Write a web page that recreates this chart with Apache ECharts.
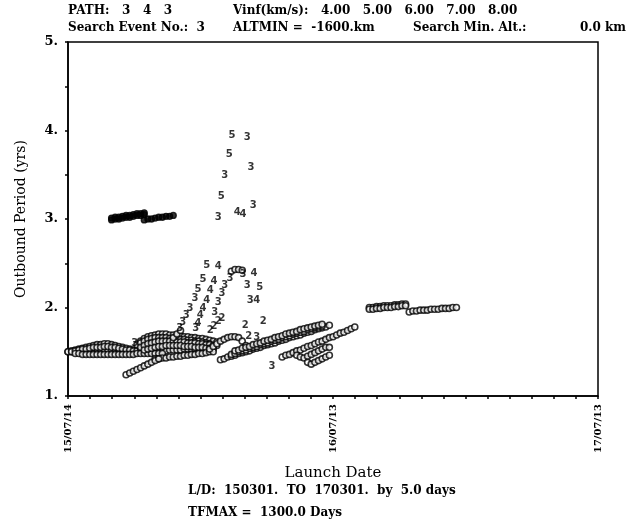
<!DOCTYPE html>
<html>
<head>
<meta charset="utf-8">
<script src="https://cdn.jsdelivr.net/npm/echarts@6/dist/echarts.min.js"></script>
<style>
  html, body { margin: 0; padding: 0; background: #fff; }
  #chart { width: 634px; height: 523px; }
</style>
</head>
<body>
<div id="chart"></div>
<script>
// x is launch day counted from 15/07/14, one point every 5 days
const xTickLabels = { 0: '15/07/14', 365: '16/07/13', 730: '17/07/13' };
const yTickLabels = { 1: '1.', 2: '2.', 3: '3.', 4: '4.', 5: '5.' };

// circle tracks: first launch day, then outbound period (yrs) every 5 days
const bandLow = { day0: 0, values: [1.50,1.50,1.51,1.51,1.51,1.52,1.52,1.52,1.52,1.52,1.52,1.51,1.51,1.51,1.50,1.50,1.50,1.50,1.50,1.50,1.50,1.50,1.50,1.50,1.50,1.51,1.51,1.51,1.52,1.52,1.52,1.52,1.53,1.53,1.53,1.53,1.54,1.54,1.54] };
const bandBump = { day0: 0, values: [1.50,1.51,1.52,1.53,1.54,1.55,1.56,1.57,1.58,1.58,1.59,1.59,1.58,1.57,1.56,1.55,1.54,1.53,1.52] };
const bandMid = { day0: 5, values: [1.50,1.51,1.52,1.53,1.53,1.54,1.55,1.55,1.55,1.56,1.56,1.55,1.55,1.54,1.53,1.52,1.52,1.51,1.51,1.51,1.51] };
const bandUnder = { day0: 10, values: [1.48,1.48,1.47,1.47,1.47,1.47,1.47,1.47,1.47,1.47,1.47,1.47,1.47,1.47,1.47,1.47,1.47,1.48,1.48,1.48,1.48,1.48,1.48,1.48,1.48] };
const blobTop = { day0: 95, values: [1.58,1.62,1.65,1.67,1.68,1.69,1.70,1.70,1.70,1.69,1.69,1.68,1.68,1.67,1.67,1.66,1.66,1.65,1.65,1.64,1.63,1.62,1.61] };
const blobUpper = { day0: 100, values: [1.60,1.62,1.64,1.65,1.66,1.66,1.66,1.66,1.65,1.65,1.65,1.64,1.64,1.63,1.63,1.62,1.62,1.61,1.60,1.59] };
const blobMid = { day0: 100, values: [1.55,1.57,1.59,1.60,1.61,1.62,1.62,1.62,1.62,1.62,1.61,1.61,1.61,1.60,1.60,1.60,1.59,1.59,1.58,1.58,1.57,1.57] };
const blobCore = { day0: 105, values: [1.52,1.53,1.54,1.55,1.56,1.56,1.57,1.57,1.57,1.57,1.57,1.56,1.56,1.56,1.55,1.55,1.55,1.54,1.54,1.53] };
const blobLow = { day0: 120, values: [1.42,1.42,1.43,1.43,1.44,1.44,1.45,1.45,1.46,1.46,1.47,1.47,1.48,1.48,1.49,1.50,1.50] };
const lowRise = { day0: 80, values: [1.24,1.26,1.28,1.30,1.32,1.34,1.36,1.38,1.40,1.42] };
const leftArc = { day0: 145, values: [1.66,1.70,1.74] };
const peakArc = { day0: 225, values: [2.41,2.43,2.43,2.42] };
const humpArc = { day0: 195, values: [1.53,1.56,1.59,1.62,1.64,1.66,1.67,1.67,1.66,1.62,1.57] };
const rightBandA = { day0: 210, values: [1.41,1.42,1.44,1.45,1.46,1.48,1.49,1.50,1.51,1.53,1.54,1.55,1.57,1.58,1.59,1.60,1.62,1.63,1.64,1.66,1.67,1.68,1.69,1.71,1.72,1.73,1.75,1.76,1.77,1.78,1.80] };
const rightBandD = { day0: 225, values: [1.47,1.48,1.50,1.51,1.52,1.54,1.55,1.56,1.58,1.59,1.60,1.62,1.63,1.64,1.66,1.67,1.68,1.70,1.71,1.72,1.73,1.75,1.76,1.77,1.78,1.79] };
const rightBandB = { day0: 230, values: [1.51,1.52,1.54,1.55,1.56,1.58,1.59,1.60,1.62,1.63,1.64,1.66,1.67,1.68,1.70,1.71,1.72,1.73,1.75,1.76,1.77,1.78,1.79,1.80,1.81] };
const rightBandC = { day0: 295, values: [1.44,1.46,1.47,1.49,1.51,1.52,1.54,1.56,1.57,1.59,1.61,1.62,1.64,1.66,1.67,1.69,1.71,1.72,1.74,1.76,1.78] };
const loopA = { day0: 315, values: [1.46,1.44,1.43,1.45,1.47,1.49,1.51,1.53,1.55,1.55] };
const loopB = { day0: 330, values: [1.38,1.36,1.38,1.40,1.42,1.44,1.46] };
const topBandA = { day0: 415, values: [2.00,2.00,2.01,2.01,2.02,2.02,2.02,2.03,2.03,2.04,2.04] };
const topBandB = { day0: 415, values: [1.98,1.98,1.99,1.99,2.00,2.00,2.00,2.01,2.01,2.02,2.02] };
const topBandC = { day0: 470, values: [1.95,1.96,1.96,1.97,1.97,1.97,1.98,1.98,1.98,1.99,1.99,1.99,2.00,2.00] };
const upperA = { day0: 60, values: [3.01,3.02,3.02,3.03,3.04,3.04,3.05,3.06,3.06,3.07] };
const upperB = { day0: 60, values: [2.99,3.00,3.00,3.01,3.02,3.02,3.03,3.04,3.04,3.05] };
const upperC = { day0: 105, values: [2.99,3.00,3.00,3.01,3.02,3.02,3.03,3.03,3.04] };

// digit marks: [launch day, period, printed digit]
const digitMarks = [
  [226,3.95,'5'],[247,3.92,'3'],[222,3.73,'5'],[252,3.58,'3'],[216,3.49,'3'],
  [211,3.25,'5'],[255,3.15,'3'],[207,3.02,'3'],[233,3.08,'4'],[241,3.05,'4'],
  [191,2.48,'5'],[207,2.46,'4'],[186,2.32,'5'],[201,2.30,'4'],[179,2.20,'5'],[196,2.19,'4'],
  [175,2.10,'3'],[191,2.08,'4'],[168,1.99,'3'],[186,1.99,'4'],[163,1.91,'3'],[182,1.91,'4'],
  [158,1.83,'3'],[179,1.82,'4'],[154,1.76,'3'],[176,1.76,'3'],
  [202,1.95,'3'],[207,2.06,'3'],[212,2.16,'3'],[216,2.25,'3'],[223,2.33,'3'],
  [196,1.74,'2'],[201,1.79,'2'],[207,1.84,'2'],[212,1.88,'2'],
  [241,2.37,'3'],[256,2.39,'4'],[247,2.25,'3'],[264,2.23,'5'],[251,2.08,'3'],[260,2.08,'4'],
  [244,1.80,'2'],[269,1.84,'2'],[249,1.67,'2'],[260,1.66,'3'],[281,1.33,'3'],[92,1.59,'3']
];

const track = t => t.values.map((v, i) => [t.day0 + 5 * i, v]);

const smallTracks = [bandLow, bandBump, bandMid, bandUnder, blobTop, blobUpper, blobMid, blobCore, blobLow,
  lowRise, leftArc, peakArc, humpArc, rightBandA, rightBandD, rightBandB, rightBandC, loopA, loopB,
  topBandA, topBandB, topBandC];
const bigTracks = [upperA, upperB, upperC];

const txt = { fontFamily: 'DejaVu Serif', fontWeight: 'bold', fontSize: 12, fill: '#000' };

const chart = echarts.init(document.getElementById('chart'));
chart.setOption({
  animation: false,
  backgroundColor: '#fff',
  grid: { left: 68, right: 36, top: 42, bottom: 127, show: true, borderColor: '#000', borderWidth: 1.5 },
  xAxis: {
    type: 'value', min: 0, max: 730, interval: 730 / 24,
    name: 'Launch Date', nameLocation: 'middle', nameGap: 70,
    nameTextStyle: { fontFamily: 'DejaVu Serif', fontSize: 15, color: '#000' },
    axisLine: { lineStyle: { color: '#000', width: 1.5 } },
    axisTick: { length: 3, lineStyle: { color: '#000', width: 1.5 } },
    splitLine: { show: false },
    axisLabel: {
      rotate: 90, margin: 8, color: '#000', fontFamily: 'DejaVu Serif', fontWeight: 'bold', fontSize: 10,
      formatter: v => xTickLabels[Math.round(v)] || ''
    }
  },
  yAxis: {
    type: 'value', min: 1, max: 5, interval: 0.5,
    name: 'Outbound Period (yrs)', nameLocation: 'middle', nameGap: 40,
    nameTextStyle: { fontFamily: 'DejaVu Serif', fontSize: 14, color: '#000' },
    axisLine: { show: true, lineStyle: { color: '#000', width: 1.5 } },
    axisTick: { show: true, length: 3, lineStyle: { color: '#000', width: 1.5 } },
    splitLine: { show: false },
    axisLabel: {
      margin: 10, color: '#000', fontFamily: 'DejaVu Serif', fontWeight: 'bold', fontSize: 13,
      formatter: v => yTickLabels[v] || ''
    }
  },
  graphic: [
    { type: 'text', left: 68, top: 5, style: Object.assign({ text: 'PATH:   3   4   3' }, txt) },
    { type: 'text', left: 233, top: 5, style: Object.assign({ text: 'Vinf(km/s):   4.00   5.00   6.00   7.00   8.00' }, txt) },
    { type: 'text', left: 68, top: 22, style: Object.assign({ text: 'Search Event No.:  3' }, txt) },
    { type: 'text', left: 233, top: 22, style: Object.assign({ text: 'ALTMIN =  -1600.km' }, txt) },
    { type: 'text', left: 413, top: 22, style: Object.assign({ text: 'Search Min. Alt.:' }, txt) },
    { type: 'text', left: 580, top: 22, style: Object.assign({ text: '0.0 km' }, txt) },
    { type: 'text', left: 188, top: 485, style: Object.assign({ text: 'L/D:  150301.  TO  170301.  by  5.0 days' }, txt) },
    { type: 'text', left: 188, top: 507, style: Object.assign({ text: 'TFMAX =  1300.0 Days' }, txt) }
  ],
  series: [
    ...smallTracks.map(t => ({
      type: 'scatter', data: track(t), symbol: 'circle', symbolSize: 6,
      itemStyle: { color: '#fff', borderColor: '#000', borderWidth: 1.6 }
    })),
    ...bigTracks.map(t => ({
      type: 'scatter', data: track(t), symbol: 'circle', symbolSize: 6,
      itemStyle: { color: '#000', borderColor: '#000', borderWidth: 1.3 }
    })),
    {
      type: 'scatter', data: digitMarks, symbolSize: 0,
      label: {
        show: true, position: 'inside', formatter: p => p.value[2],
        color: '#000', fontFamily: 'DejaVu Sans', fontWeight: 'bold', fontSize: 10
      }
    }
  ]
});
</script>
</body>
</html>
